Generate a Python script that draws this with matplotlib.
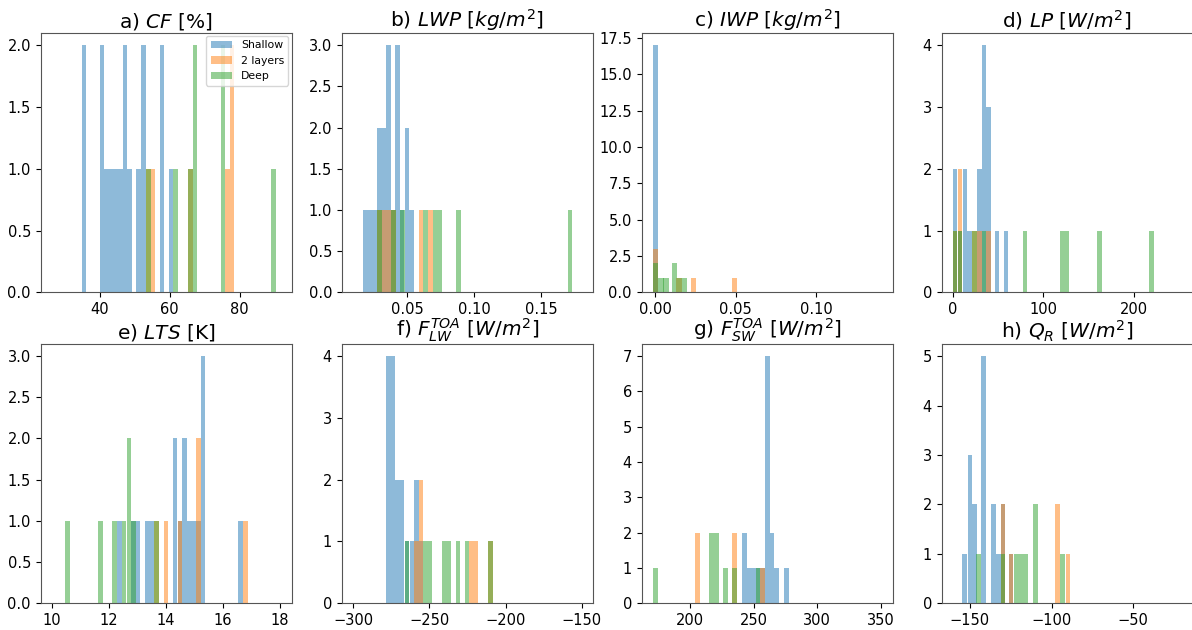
import numpy as np
import matplotlib
matplotlib.use('Agg')
import matplotlib.pyplot as plt

groups = ['Shallow', '2 layers', 'Deep']

# a) cloud fraction
cf_bin = 1.31
cf_shallow_x = [34.8, 40.0, 41.3, 42.6, 43.9, 45.3, 46.6, 47.9, 50.5, 51.8, 57.1, 59.7]
cf_shallow_n = [2, 2, 1, 1, 1, 1, 2, 1, 1, 2, 2, 1]
cf_layers_x = [53.3, 54.6, 65.3, 75.9, 77.2]
cf_layers_n = [1, 1, 1, 1, 2]
cf_deep_x = [53.3, 61.0, 65.3, 66.6, 74.6, 89.0]
cf_deep_n = [1, 1, 1, 2, 2, 1]

# b) liquid water path
lwp_bin = 0.00345
lwp_shallow_x = [0.0170, 0.0205, 0.0239, 0.0274, 0.0308, 0.0343, 0.0377, 0.0412, 0.0446, 0.0481, 0.0515]
lwp_shallow_n = [1, 1, 1, 2, 2, 3, 1, 3, 1, 2, 1]
lwp_layers_x = [0.0275, 0.0310, 0.0345, 0.0380, 0.0587, 0.0660]
lwp_layers_n = [1, 1, 1, 1, 1, 1]
lwp_deep_x = [0.0275, 0.0380, 0.0447, 0.0620, 0.0695, 0.0729, 0.0868, 0.1700]
lwp_deep_n = [1, 1, 1, 1, 1, 1, 1, 1]

# c) ice water path
iwp_bin = 0.0034
iwp_shallow_x = [-0.0014]
iwp_shallow_n = [17]
iwp_layers_x = [-0.0014, 0.0132, 0.0220, 0.0477]
iwp_layers_n = [3, 1, 1, 1]
iwp_deep_x = [-0.0014, 0.0019, 0.0050, 0.0104, 0.0135, 0.0165]
iwp_deep_n = [2, 1, 1, 2, 1, 1]

# d) latent heat / precipitation
lp_bin = 5.0
lp_shallow_x = [0, 5.5, 11, 16, 26.9, 31.8, 37, 46.2, 56.2]
lp_shallow_n = [2, 1, 2, 1, 2, 4, 3, 1, 1]
lp_layers_x = [0, 5.5, 21.4, 26.9, 37.0]
lp_layers_n = [1, 2, 1, 1, 1]
lp_deep_x = [0, 5.5, 21.4, 31.8, 76.9, 118.4, 123.4, 159.5, 216.5]
lp_deep_n = [1, 1, 1, 1, 1, 1, 1, 1, 1]

# e) lower tropospheric stability
lts_bin = 0.165
lts_shallow_x = [12.30, 12.78, 12.94, 13.26, 13.43, 14.24, 14.41, 14.58, 14.75, 14.91, 15.07, 15.22, 16.54]
lts_shallow_n = [1, 1, 1, 1, 1, 2, 1, 2, 1, 1, 1, 3, 1]
lts_layers_x = [13.60, 13.92, 14.41, 15.07, 16.71]
lts_layers_n = [1, 1, 1, 2, 1]
lts_deep_x = [10.47, 11.62, 12.12, 12.45, 12.62, 12.78, 13.60]
lts_deep_n = [1, 1, 1, 1, 2, 1, 1]

# f) TOA longwave
lw_bin = 2.9
lw_shallow_x = [-278.3, -275.4, -272.5, -269.6, -266.3, -263.1, -260.0, -257.1]
lw_shallow_n = [4, 4, 2, 2, 1, 1, 2, 1]
lw_layers_x = [-260.0, -257.1, -223.8, -220.9, -211.4]
lw_layers_n = [1, 2, 1, 1, 1]
lw_deep_x = [-266.3, -254.0, -251.1, -242.0, -239.1, -232.8, -226.7, -211.4]
lw_deep_n = [1, 1, 1, 1, 1, 1, 1, 1]

# g) TOA shortwave
sw_bin = 3.7
sw_shallow_x = [240.8, 244.5, 248.0, 251.5, 255.2, 258.8, 262.5, 266.2, 273.7]
sw_shallow_n = [2, 1, 1, 1, 1, 7, 2, 1, 1]
sw_layers_x = [204.0, 233.0, 255.2]
sw_layers_n = [2, 2, 1]
sw_deep_x = [171.2, 215.0, 218.7, 225.8, 233.0, 251.5]
sw_deep_n = [1, 2, 2, 1, 1, 1]

# h) radiative cooling
qr_bin = 3.0
qr_shallow_x = [-154.5, -151.4, -148.5, -143.1, -137.1, -134.1, -131.2, -126.3]
qr_shallow_n = [1, 3, 2, 5, 2, 1, 2, 1]
qr_layers_x = [-131.2, -126.3, -97.6, -91.4]
qr_layers_n = [2, 1, 2, 1]
qr_deep_x = [-146.3, -131.2, -123.2, -120.2, -117.2, -111.5, -94.5]
qr_deep_n = [1, 1, 1, 1, 1, 2, 1]

titles = ['a) $CF$ [%]', 'b) $LWP$ $[kg/m^2]$', 'c) $IWP$ $[kg/m^2]$', 'd) $LP$ $[W/m^2]$',
          'e) $LTS$ [K]', 'f) $F_{LW}^{TOA}$ $[W/m^2]$', 'g) $F_{SW}^{TOA}$ $[W/m^2]$', 'h) $Q_R$ $[W/m^2]$']

panels = [
    (cf_bin, [(cf_shallow_x, cf_shallow_n), (cf_layers_x, cf_layers_n), (cf_deep_x, cf_deep_n)],
     (23.1, 94.9), [40, 60, 80]),
    (lwp_bin, [(lwp_shallow_x, lwp_shallow_n), (lwp_layers_x, lwp_layers_n), (lwp_deep_x, lwp_deep_n)],
     (0.0012, 0.1888), [0.05, 0.10, 0.15]),
    (iwp_bin, [(iwp_shallow_x, iwp_shallow_n), (iwp_layers_x, iwp_layers_n), (iwp_deep_x, iwp_deep_n)],
     (-0.0083, 0.1473), [0.0, 0.05, 0.10]),
    (lp_bin, [(lp_shallow_x, lp_shallow_n), (lp_layers_x, lp_layers_n), (lp_deep_x, lp_deep_n)],
     (-12.2, 264.5), [0, 100, 200]),
    (lts_bin, [(lts_shallow_x, lts_shallow_n), (lts_layers_x, lts_layers_n), (lts_deep_x, lts_deep_n)],
     (9.6, 18.42), [10, 12, 14, 16, 18]),
    (lw_bin, [(lw_shallow_x, lw_shallow_n), (lw_layers_x, lw_layers_n), (lw_deep_x, lw_deep_n)],
     (-307.6, -142.8), [-300, -250, -200, -150]),
    (sw_bin, [(sw_shallow_x, sw_shallow_n), (sw_layers_x, sw_layers_n), (sw_deep_x, sw_deep_n)],
     (161.9, 359.2), [200, 250, 300, 350]),
    (qr_bin, [(qr_shallow_x, qr_shallow_n), (qr_layers_x, qr_layers_n), (qr_deep_x, qr_deep_n)],
     (-167.2, -13.6), [-150, -100, -50]),
]

colors = ['tab:blue', 'tab:orange', 'tab:green']

fig = plt.figure(figsize=(11.92, 6.3), dpi=100)
lefts = [0.0341, 0.2867, 0.5383, 0.790]
bottoms = [0.536, 0.0424]

for i, (w, data, xlim, xticks) in enumerate(panels):
    ax = fig.add_axes([lefts[i % 4], bottoms[i // 4], 0.2106, 0.412])
    for (x, n), c, lab in zip(data, colors, groups):
        ax.bar(x, n, width=w, align='edge', color=c, alpha=0.5, label=lab, linewidth=0)
    ax.set_xlim(xlim)
    ax.set_xticks(xticks)
    ax.tick_params(labelsize=10.5)
    ax.set_title(titles[i], fontsize=14.5, pad=4)
    for s in ax.spines.values():
        s.set_color('#555555')
    if i == 0:
        ax.legend(loc='upper right', fontsize=7.8, borderaxespad=0.3)

fig.savefig('out.png', dpi=100)
